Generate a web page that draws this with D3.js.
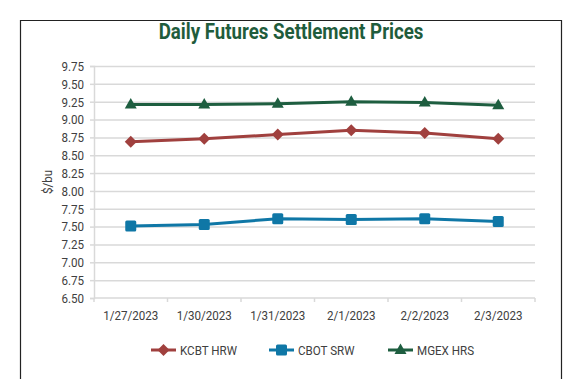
<!DOCTYPE html>
<html>
<head>
<meta charset="utf-8">
<script src="https://cdn.jsdelivr.net/npm/d3@7/dist/d3.min.js"></script>
<style>
  body { margin: 0; background: #fff; }
  svg text { font-family: Roboto, "Liberation Sans", sans-serif; }
  .axis path, .axis line { stroke: #d9d9d9; stroke-width: 1.5; }
  .grid line { stroke: #d9d9d9; stroke-width: 1.5; }
  .grid path { display: none; }
</style>
</head>
<body>
<div id="chart"></div>
<script>
// Data
var dates = ["1/27/2023", "1/30/2023", "1/31/2023", "2/1/2023", "2/2/2023", "2/3/2023"];
var kcbtHrw = [8.69, 8.73, 8.79, 8.85, 8.81, 8.73];
var cbotSrw = [7.51, 7.53, 7.61, 7.60, 7.61, 7.57];
var mgexHrs = [9.21, 9.21, 9.22, 9.25, 9.24, 9.20];
var yTicks = [6.5, 6.75, 7, 7.25, 7.5, 7.75, 8, 8.25, 8.5, 8.75, 9, 9.25, 9.5, 9.75];

var series = [
  { name: "KCBT HRW", values: kcbtHrw, color: "#a0403e", marker: "diamond" },
  { name: "CBOT SRW", values: cbotSrw, color: "#0f77a6", marker: "square" },
  { name: "MGEX HRS", values: mgexHrs, color: "#1e5e40", marker: "triangle" },
];

var width = 572, height = 379;
var margins = { top: 66, right: 37, bottom: 81, left: 94 };
var chartWidth = width - margins.left - margins.right;
var chartHeight = height - margins.top - margins.bottom;

var svg = d3.select("#chart").append("svg")
  .attr("width", width)
  .attr("height", height);

// outer frame (bottom edge is off the picture)
svg.append("path")
  .attr("d", "M20.5," + (height + 5) + "V20.5H561.5V" + (height + 5))
  .attr("fill", "none")
  .attr("stroke", "#222")
  .attr("stroke-width", 1.2);

svg.append("text")
  .attr("transform", "translate(291,39) scale(0.85,1)")
  .attr("text-anchor", "middle")
  .style("font-size", "22px")
  .style("font-weight", 700)
  .style("fill", "#1f5c3c")
  .text("Daily Futures Settlement Prices");

var chartElement = svg.append("g")
  .attr("transform", "translate(" + margins.left + "," + margins.top + ")");

var xScale = d3.scaleBand().domain(dates).range([0, chartWidth]);
var yScale = d3.scaleLinear().domain([6.5, 9.75]).range([chartHeight, 0]);

// grid
chartElement.append("g")
  .attr("class", "grid")
  .call(d3.axisLeft(yScale).tickValues(yTicks.slice(1)).tickSize(-chartWidth).tickFormat(""));

// y axis
var yAxis = chartElement.append("g")
  .attr("class", "axis")
  .call(d3.axisLeft(yScale).tickValues(yTicks).tickSize(4).tickPadding(6).tickFormat(d3.format(".2f")));
yAxis.selectAll("text")
  .style("font-size", "13.5px")
  .style("fill", "#404040")
  .attr("transform", "scale(0.86,1)")
  .attr("x", -10 / 0.86);

// x axis with ticks at band edges
var xAxisG = chartElement.append("g")
  .attr("class", "axis")
  .attr("transform", "translate(0," + chartHeight + ")");
xAxisG.append("line").attr("x1", 0).attr("x2", chartWidth);
xAxisG.selectAll(".tk")
  .data(d3.range(dates.length + 1))
  .enter()
  .append("line")
  .attr("x1", function (i) { return i * xScale.step(); })
  .attr("x2", function (i) { return i * xScale.step(); })
  .attr("y1", 0)
  .attr("y2", 4);
xAxisG.selectAll(".lbl")
  .data(dates)
  .enter()
  .append("text")
  .attr("transform", function (d) { return "translate(" + (xScale(d) + xScale.bandwidth() / 2) + ",22) scale(0.86,1)"; })
  .attr("text-anchor", "middle")
  .style("font-size", "13.5px")
  .style("fill", "#404040")
  .text(function (d) { return d; });

// y title
svg.append("text")
  .attr("transform", "translate(52,182) rotate(-90) scale(0.86,1)")
  .attr("text-anchor", "middle")
  .style("font-size", "13.5px")
  .style("fill", "#404040")
  .text("$/bu");

function drawMarker(sel, type, color) {
  if (type == "square") {
    sel.append("rect").attr("x", -5.5).attr("y", -5.5).attr("width", 11).attr("height", 11)
      .attr("rx", 1.5).attr("fill", color);
  } else if (type == "diamond") {
    sel.append("path").attr("d", "M0,-6L6,0L0,6L-6,0Z").attr("fill", color);
  } else {
    sel.append("path").attr("d", "M0,-6.5L6,4L-6,4Z").attr("fill", color);
  }
}

var line = d3.line()
  .x(function (d, i) { return xScale(dates[i]) + xScale.bandwidth() / 2; })
  .y(function (d) { return yScale(d); });

series.forEach(function (s) {
  var g = chartElement.append("g");
  g.append("path")
    .datum(s.values)
    .attr("d", line)
    .attr("fill", "none")
    .attr("stroke", s.color)
    .attr("stroke-width", 3);
  g.selectAll(".m")
    .data(s.values)
    .enter()
    .append("g")
    .attr("transform", function (d, i) {
      return "translate(" + (xScale(dates[i]) + xScale.bandwidth() / 2) + "," + yScale(d) + ")";
    })
    .each(function () { drawMarker(d3.select(this), s.marker, s.color); });
});

// legend
var legendX = [151, 269, 388];
var legend = svg.selectAll(".legend")
  .data(series)
  .enter()
  .append("g")
  .attr("transform", function (d, i) { return "translate(" + legendX[i] + ",350)"; });
legend.append("line")
  .attr("x1", 0).attr("x2", 25)
  .attr("stroke", function (d) { return d.color; })
  .attr("stroke-width", 3);
legend.append("g")
  .attr("transform", "translate(12.5,0)")
  .each(function (d) { drawMarker(d3.select(this), d.marker, d.color); });
legend.append("text")
  .attr("transform", "translate(29,5) scale(0.86,1)")
  .style("font-size", "13.5px")
  .style("fill", "#404040")
  .text(function (d) { return d.name; });
</script>
</body>
</html>
